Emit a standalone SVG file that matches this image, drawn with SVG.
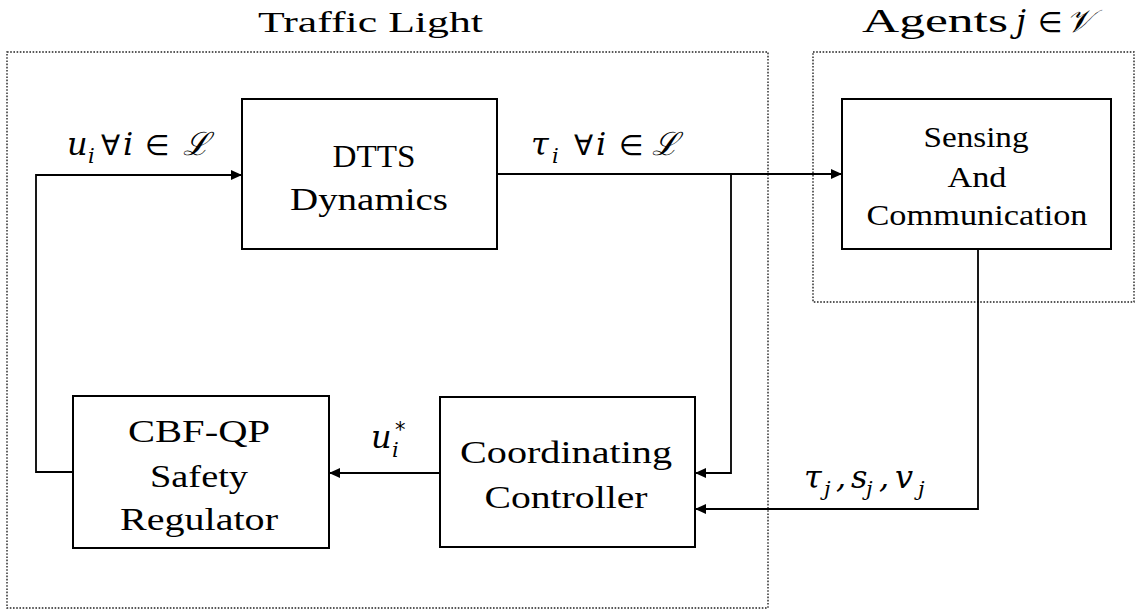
<svg xmlns="http://www.w3.org/2000/svg" width="1136" height="613" viewBox="0 0 1136 613">
  <defs>
    <marker id="arrow" viewBox="0 0 10 10" refX="10" refY="5" markerWidth="11" markerHeight="11" markerUnits="userSpaceOnUse" orient="auto">
      <path d="M0,0.5 L10,5 L0,9.5 Z" fill="#000"/>
    </marker>
  </defs>
  <style>
    .frame { fill: none; stroke: #222; stroke-width: 1.4; stroke-dasharray: 1.6 1.6; }
    .box { fill: #fff; stroke: #000; stroke-width: 2; }
    .wire { fill: none; stroke: #000; stroke-width: 1.8; }
    .serif { font-family: "Liberation Serif", "Times New Roman", serif; fill: #000; }
    .label { font-size: 32px; text-anchor: middle; }
    .small { font-size: 29px; text-anchor: middle; }
    .math { font-family: "DejaVu Serif", "Liberation Serif", serif; font-style: italic; font-size: 32px; fill: #000; }
    .op { font-family: "DejaVu Sans", "Liberation Sans", sans-serif; font-style: normal; font-size: 28px; }
    .sub { font-size: 21px; }
  </style>
  <rect width="1136" height="613" fill="#fff"/>

  <!-- grouping frames -->
  <g id="traffic-light-frame">
    <rect class="frame" x="7" y="52" width="761" height="556"/>
    <text class="serif" x="258" y="32" font-size="30" textLength="225" lengthAdjust="spacingAndGlyphs">Traffic Light</text>
  </g>
  <g id="agents-frame">
    <rect class="frame" x="813" y="52" width="321" height="250"/>
    <text class="serif" x="862" y="32" font-size="34" textLength="146" lengthAdjust="spacingAndGlyphs">Agents</text>
    <text class="math" x="1016" y="32" font-size="32">j</text>
    <text class="math op" x="1038" y="32">∈</text>
    <text class="math" x="1066" y="32" font-size="30">𝒱</text>
  </g>

  <!-- connectors -->
  <g id="connectors">
    <path class="wire" d="M73,472 H36 V175 H242" marker-end="url(#arrow)"/>
    <path class="wire" d="M497,174 H842" marker-end="url(#arrow)"/>
    <path class="wire" d="M731,174 V473 H695" marker-end="url(#arrow)"/>
    <path class="wire" d="M978,249 V509 H695" marker-end="url(#arrow)"/>
    <path class="wire" d="M440,473 H329" marker-end="url(#arrow)"/>

    <!-- u_i ∀i ∈ L -->
    <text class="math" x="67" y="155">u</text>
    <text class="math sub" x="88" y="163">i</text>
    <text class="math op" x="101" y="155">∀</text>
    <text class="math" x="123" y="155">i</text>
    <text class="math op" x="145" y="155">∈</text>
    <text class="math" x="183" y="155">ℒ</text>

    <!-- tau_i ∀i ∈ L -->
    <text class="math" x="531" y="155">τ</text>
    <text class="math sub" x="552" y="163">i</text>
    <text class="math op" x="574" y="155">∀</text>
    <text class="math" x="596" y="155">i</text>
    <text class="math op" x="619" y="155">∈</text>
    <text class="math" x="652" y="155">ℒ</text>

    <!-- u_i^* -->
    <text class="math" x="371" y="448">u</text>
    <text class="math sub" x="392" y="457">i</text>
    <text class="math sub op" x="395" y="437" font-size="21">*</text>

    <!-- tau_j, s_j, v_j -->
    <text class="math" x="804" y="488">τ</text>
    <text class="math sub" x="824" y="496">j</text>
    <text class="math" x="836" y="488" font-style="normal">,</text>
    <text class="math" x="851" y="488">s</text>
    <text class="math sub" x="866" y="496">j</text>
    <text class="math" x="879" y="488" font-style="normal">,</text>
    <text class="math" x="895" y="488">v</text>
    <text class="math sub" x="918" y="496">j</text>
  </g>

  <!-- blocks -->
  <g id="dtts-dynamics">
    <rect class="box" x="242" y="99" width="255" height="150"/>
    <text class="serif label" x="374" y="167" textLength="83" lengthAdjust="spacingAndGlyphs">DTTS</text>
    <text class="serif label" x="369" y="210" textLength="158" lengthAdjust="spacingAndGlyphs">Dynamics</text>
  </g>
  <g id="sensing-communication">
    <rect class="box" x="842" y="99" width="269" height="150"/>
    <text class="serif small" x="976" y="147" textLength="105" lengthAdjust="spacingAndGlyphs">Sensing</text>
    <text class="serif small" x="977" y="187" textLength="59" lengthAdjust="spacingAndGlyphs">And</text>
    <text class="serif small" x="977" y="225" textLength="221" lengthAdjust="spacingAndGlyphs">Communication</text>
  </g>
  <g id="cbf-qp-regulator">
    <rect class="box" x="73" y="396" width="256" height="152"/>
    <text class="serif label" x="199" y="442" textLength="142" lengthAdjust="spacingAndGlyphs">CBF-QP</text>
    <text class="serif label" x="199" y="487" textLength="98" lengthAdjust="spacingAndGlyphs">Safety</text>
    <text class="serif label" x="199" y="530" textLength="158" lengthAdjust="spacingAndGlyphs">Regulator</text>
  </g>
  <g id="coordinating-controller">
    <rect class="box" x="440" y="397" width="255" height="150"/>
    <text class="serif label" x="566" y="463" textLength="212" lengthAdjust="spacingAndGlyphs">Coordinating</text>
    <text class="serif label" x="566" y="508" textLength="163" lengthAdjust="spacingAndGlyphs">Controller</text>
  </g>
</svg>
